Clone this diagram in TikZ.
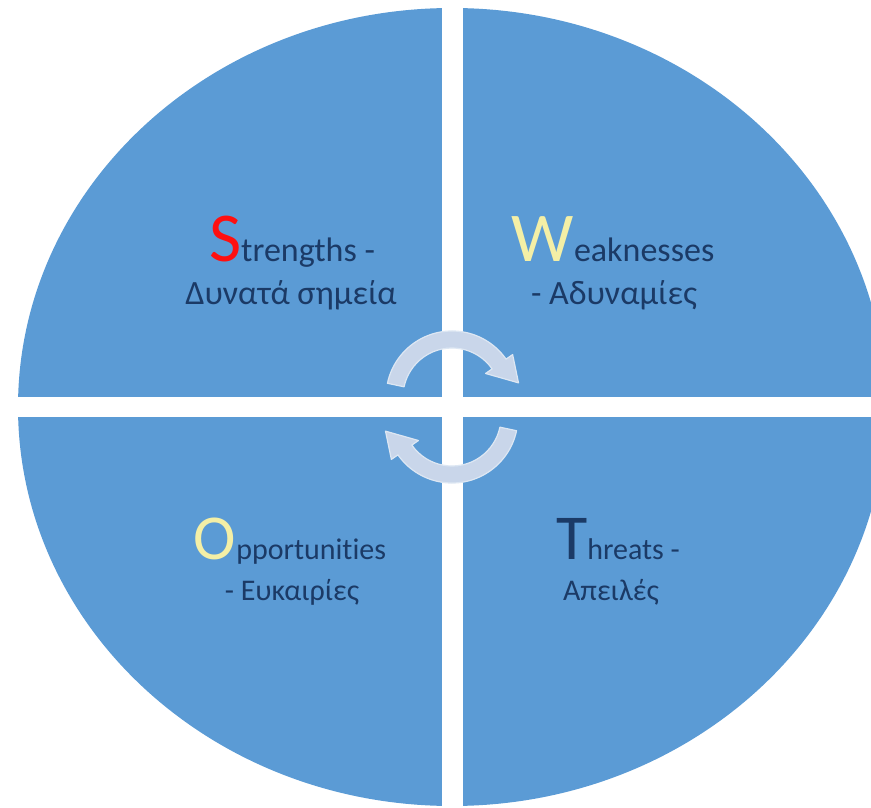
\documentclass[tikz,border=0pt]{standalone}
\usepackage{fontspec}
\setmainfont{Carlito}[Ligatures=NoCommon]
\definecolor{quadblue}{HTML}{5B9BD5}
\definecolor{navytext}{HTML}{1B3A66}
\definecolor{paleyellow}{HTML}{F4EFA6}
\definecolor{redletter}{HTML}{FF1010}
\definecolor{arrowfill}{HTML}{C9D6EA}
\definecolor{arrowedge}{HTML}{DDE7F3}
\tikzset{
  bandarrow/.style={fill=arrowfill, draw=arrowedge, line width=1.2pt, line join=round},
  toptxt/.style={inner sep=0pt, anchor=base, text=navytext, font=\fontsize{34}{40}\selectfont},
  bottxt/.style={inner sep=0pt, anchor=base, text=navytext, font=\fontsize{30}{36}\selectfont},
}
\newcommand{\bigletter}[3]{{\fontsize{#1}{#1}\selectfont\textcolor{#2}{#3}}}
\begin{document}
\begin{tikzpicture}[x=1pt,y=1pt]
\useasboundingbox (0,0) rectangle (871,807);
\clip (0,0) rectangle (871,807);
% disc
\fill[quadblue] (452,400) ellipse[x radius=434, y radius=399];
% separating bars
\fill[white] (442,0) rectangle (463,807);
\fill[white] (0,390) rectangle (871,410);
% circular arrows
\begin{scope}[shift={(452,410)}]
  \draw[bandarrow] (168:66) arc[start angle=168, end angle=35, radius=66]
    -- (35:74) -- (12:68) -- (35:41) -- (35:49)
    arc[start angle=35, end angle=168, radius=49] -- cycle;
\end{scope}
\begin{scope}[shift={(452,390)}, rotate=180]
  \draw[bandarrow] (168:66) arc[start angle=168, end angle=35, radius=66]
    -- (35:74) -- (12:68) -- (35:41) -- (35:49)
    arc[start angle=35, end angle=168, radius=49] -- cycle;
\end{scope}
% texts
\node[toptxt] (s1) at (292,545) {\bigletter{70}{redletter}{S}trengths -};
\node[toptxt] (s2) at (291,502) {Δυνατά σημεία};
\node[toptxt] (w1) at (613,545) {\bigletter{70}{paleyellow}{W}eaknesses};
\node[toptxt] (w2) at (614,502) {- Αδυναμίες};
\node[bottxt] (o1) at (290,247) {\bigletter{64}{paleyellow}{O}pportunities};
\node[bottxt] (o2) at (292,206) {- Ευκαιρίες};
\node[bottxt] (t1) at (618,247) {\bigletter{64}{navytext}{T}hreats -};
\node[bottxt] (t2) at (611,206) {Απειλές};
\end{tikzpicture}
\end{document}
